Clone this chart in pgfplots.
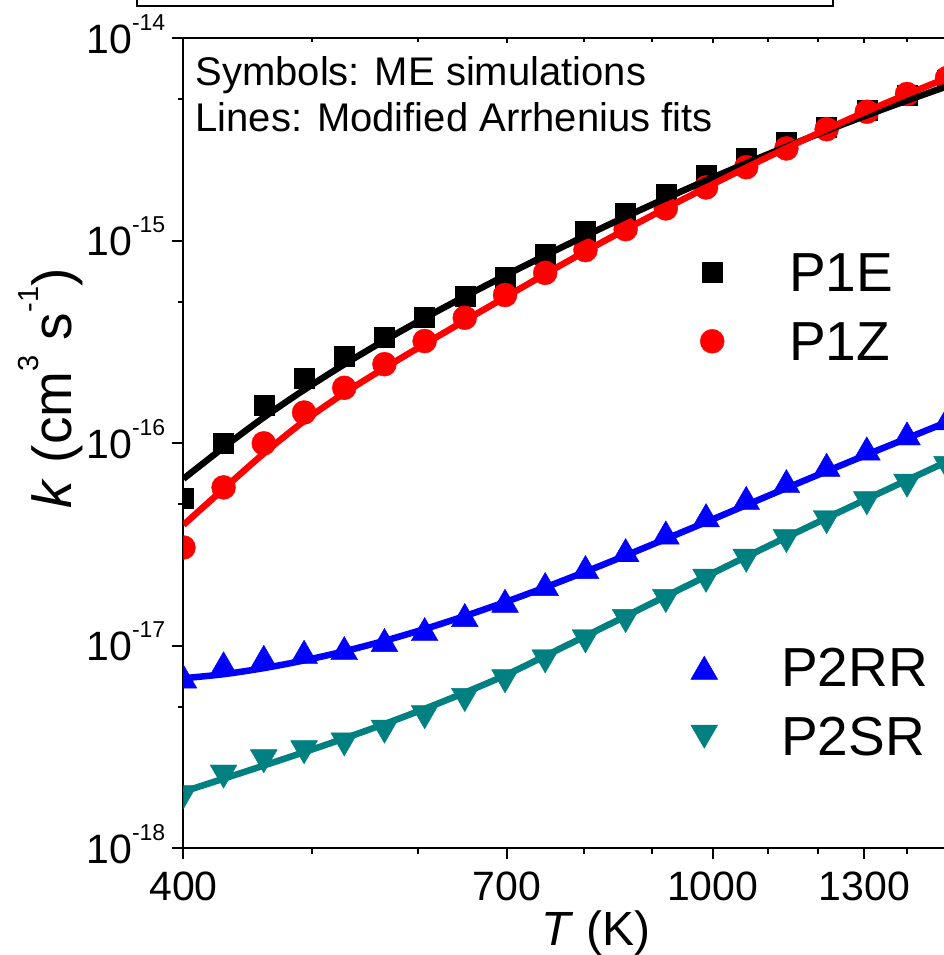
\documentclass[border=0pt]{standalone}
\usepackage{fontspec}
\setmainfont{Liberation Sans}
\usepackage{pgfplots}
\usepackage{pgfplotstable}
\pgfplotsset{compat=1.18}
\definecolor{tealc}{RGB}{0,128,128}
\newcommand\tl[1]{10\raisebox{23pt}{\fontsize{23}{23}\selectfont -#1}}
\newcommand\su[1]{\raisebox{33pt}{\fontsize{29}{29}\selectfont #1}}
\pgfplotsset{limg/.style={legend image code/.code={\draw[##1] plot coordinates {(0pt,0pt)}; \path[draw=none,fill=none] (-20pt,-25pt) rectangle (77pt,25pt);}}}

\pgfplotstableread{
T P1E P1Z P2RR P2SR fE fZ fRR fSR
400 5.35e-17 3.06e-17 7.06e-18 1.79e-18 6.683e-17 3.954e-17 6.918e-18 1.905e-18
428.8 1.0e-16 6.06e-17 8.2e-18 2.26e-18 9.550e-17 5.957e-17 7.244e-18 2.208e-18
459.7 1.545e-16 1.0e-16 8.83e-18 2.69e-18 1.343e-16 8.913e-17 7.762e-18 2.564e-18
492.9 2.09e-16 1.42e-16 9.35e-18 2.98e-18 1.837e-16 1.288e-16 8.472e-18 2.985e-18
528.4 2.68e-16 1.88e-16 9.75e-18 3.26e-18 2.455e-16 1.770e-16 9.397e-18 3.491e-18
566.5 3.36e-16 2.46e-16 1.069e-17 3.77e-18 3.221e-16 2.355e-16 1.059e-17 4.111e-18
607.3 4.19e-16 3.20e-16 1.21e-17 4.44e-18 4.159e-16 3.090e-16 1.211e-17 4.887e-18
651.0 5.30e-16 4.17e-16 1.42e-17 5.40e-18 5.309e-16 4.036e-16 1.403e-17 5.875e-18
698.0 6.65e-16 5.40e-16 1.67e-17 6.68e-18 6.730e-16 5.260e-16 1.644e-17 7.145e-18
748.3 8.6e-16 6.95e-16 2.02e-17 8.38e-18 8.472e-16 6.855e-16 1.945e-17 8.913e-18
802.2 1.11e-15 9.0e-16 2.45e-17 1.052e-17 1.059e-15 8.872e-16 2.323e-17 1.117e-17
860.0 1.376e-15 1.142e-15 2.97e-17 1.325e-17 1.315e-15 1.138e-15 2.793e-17 1.400e-17
921.9 1.70e-15 1.446e-15 3.63e-17 1.664e-17 1.622e-15 1.449e-15 3.373e-17 1.758e-17
988.4 2.10e-15 1.835e-15 4.42e-17 2.095e-17 1.986e-15 1.832e-15 4.083e-17 2.203e-17
1059.6 2.55e-15 2.31e-15 5.38e-17 2.63e-17 2.415e-15 2.301e-15 4.955e-17 2.754e-17
1135.9 3.08e-15 2.86e-15 6.51e-17 3.29e-17 2.917e-15 2.871e-15 6.012e-17 3.436e-17
1217.8 3.66e-15 3.56e-15 7.84e-17 4.08e-17 3.500e-15 3.556e-15 7.278e-17 4.276e-17
1305.5 4.42e-15 4.34e-15 9.44e-17 5.06e-17 4.169e-15 4.365e-15 8.790e-17 5.309e-17
1399.6 5.25e-15 5.31e-15 1.12e-16 6.18e-17 4.932e-15 5.297e-15 1.059e-16 6.577e-17
1500 6.22e-15 6.37e-15 1.33e-16 7.55e-17 5.794e-15 6.368e-15 1.274e-16 8.128e-17
}\datatab

\begin{document}
\begin{tikzpicture}
\begin{axis}[
  at={(0pt,0pt)}, anchor=south west,
  scale only axis, width=771.6pt, height=810pt,
  xmode=log, ymode=log,
  xmin=400, xmax=1521, ymin=1e-18, ymax=1e-14,
  axis lines*=left,
  axis line style={line width=2pt},
  tick style={line width=2pt, black},
  tick align=outside,
  major tick length=11pt, minor tick length=5.5pt,
  xtick={400,700,1000,1300}, xticklabels={400,700,1000,1300},
  minor xtick={500,600,800,900,1100,1200,1400,1500},
  ytick={1e-18,1e-17,1e-16,1e-15,1e-14},
  yticklabels={\tl{18},\tl{17},\tl{16},\tl{15},\tl{14}},
  minor ytick={5e-18,5e-17,5e-16,5e-15},
  xticklabel style={font=\fontsize{41}{41}\selectfont, inner sep=0pt, anchor=north, yshift=-12pt},
  yticklabel style={font=\fontsize{41}{41}\selectfont, inner sep=0pt, anchor=base east, yshift=-14.7pt, xshift=-7pt},
  xlabel={\textit{T} (K)},
  xlabel style={at={(axis description cs:0.5347,-0.1046)}, anchor=center, font=\fontsize{48}{48}\selectfont, inner sep=0pt},
  ylabel={\textit{k} (cm\su{3} s\su{-1})},
  ylabel style={at={(axis description cs:-0.1716,0.568)}, anchor=center, font=\fontsize{55}{55}\selectfont, inner sep=0pt},
  clip marker paths=true,
  legend cell align=left,
  legend style={at={(0.6591,0.7423)}, anchor=north west, draw=none, fill=none, inner sep=0pt, row sep=19pt, font=\fontsize{55}{55}\selectfont, nodes={inner sep=0pt, text depth=0pt}},
]
\addplot[only marks, mark=square*, mark size=10pt, black, mark options={solid}, limg] table[x=T,y=P1E]{\datatab};
\addlegendentry{P1E}
\addplot[only marks, mark=*, mark size=12pt, red, mark options={solid}, limg] table[x=T,y=P1Z]{\datatab};
\addlegendentry{P1Z}
\addplot[no marks, black, line width=6.5pt, smooth, forget plot] table[x=T,y=fE]{\datatab};
\addplot[no marks, red, line width=6.5pt, smooth, forget plot] table[x=T,y=fZ]{\datatab};
\end{axis}
\begin{axis}[
  at={(0pt,0pt)}, anchor=south west,
  scale only axis, width=771.6pt, height=810pt,
  xmode=log, ymode=log,
  xmin=400, xmax=1521, ymin=1e-18, ymax=1e-14,
  axis x line*=top, axis y line=none,
  axis line style={line width=2pt},
  tick style={line width=2pt, black},
  tick align=inside,
  major tick length=5pt, minor tick length=3.5pt,
  xtick={400,700,1000,1300}, xticklabels={},
  minor xtick={500,600,800,900,1100,1200,1400,1500},
  ytick=\empty,
  clip marker paths=true,
  legend cell align=left,
  legend style={at={(0.6488,0.2541)}, anchor=north west, draw=none, fill=none, inner sep=0pt, row sep=19pt, font=\fontsize{55}{55}\selectfont, nodes={inner sep=0pt, text depth=0pt}},
]
\addplot[only marks, mark=triangle*, mark size=15.5pt, blue, mark options={solid, yshift=-3.9pt}, limg] table[x=T,y=P2RR]{\datatab};
\addlegendentry{P2RR}
\addplot[only marks, mark=triangle*, mark size=15.5pt, tealc, mark options={solid, yshift=3.9pt, rotate=180}, limg] table[x=T,y=P2SR]{\datatab};
\addlegendentry{P2SR}
\addplot[no marks, blue, line width=6.5pt, smooth, forget plot] table[x=T,y=fRR]{\datatab};
\addplot[no marks, tealc, line width=6.5pt, smooth, forget plot] table[x=T,y=fSR]{\datatab};
\end{axis}
\node[anchor=base west, inner sep=0pt, font=\fontsize{40}{40}\selectfont] at (12pt,762.3pt) {Symbols: ME simulations};
\node[anchor=base west, inner sep=0pt, font=\fontsize{40}{40}\selectfont] at (12pt,716.3pt) {Lines: Modified Arrhenius fits};
\draw[line width=1.2pt] (-46.4pt,849pt) -- (-46.4pt,842.3pt) -- (649.6pt,842.3pt) -- (649.6pt,849pt);
\pgfresetboundingbox
\useasboundingbox (-183.4pt,-106.7pt) rectangle (759.6pt,848.3pt);
\end{tikzpicture}
\end{document}
